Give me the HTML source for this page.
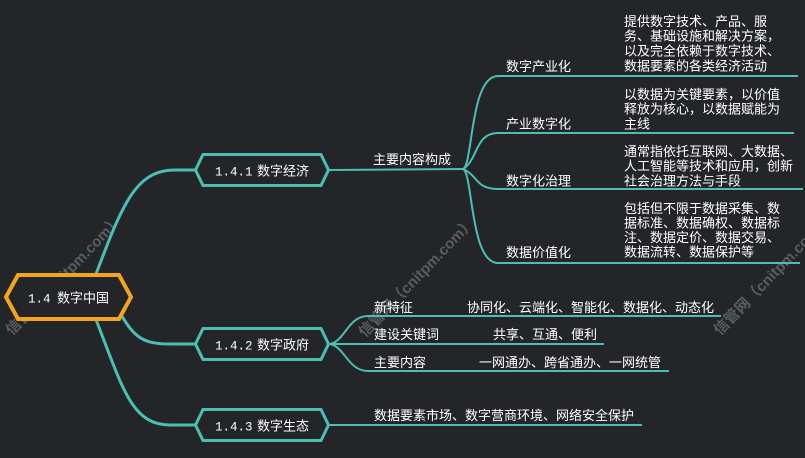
<!DOCTYPE html>
<html>
<head>
<meta charset="utf-8">
<style>
html,body{margin:0;padding:0;background:#232529;}
svg{display:block;}
text{font-family:"Liberation Sans","Noto Sans CJK SC",sans-serif;fill:#ffffff;font-size:13px;}
.mono{font-family:"Liberation Mono","Noto Sans CJK SC",monospace;font-size:12.5px;}
.wm{font-family:"Liberation Sans","Noto Sans CJK SC",sans-serif;font-weight:bold;font-size:15px;fill:#5a5d61;}
</style>
</head>
<body>
<svg width="805" height="458" viewBox="0 0 805 458" xmlns="http://www.w3.org/2000/svg">
<rect x="0" y="0" width="805" height="458" fill="#232529"/>

<!-- watermarks -->
<text class="wm" transform="translate(12,336) rotate(-46)">信管网（cnitpm.com）</text>
<text class="wm" transform="translate(365,338) rotate(-46)">信管网（cnitpm.com）</text>
<text class="wm" transform="translate(720,336) rotate(-46)">信管网（cnitpm.com）</text>

<!-- root connectors -->
<g fill="none" stroke="#4bbfb2" stroke-width="3" stroke-linecap="round">
  <path d="M93 282 C122 205, 135 170, 175 170 L196 170"/>
  <path d="M93 312 C122 385, 130 425, 170 425 L196 425"/>
  <path d="M116 306 C133 336, 140 344, 170 344 L196 344"/>
</g>

<!-- 1.4.1 children -->
<g fill="none" stroke="#4bbfb2" stroke-width="2">
  <path d="M329 170 L463 169"/>
  <path d="M463 169 C473 165, 470 76, 498 76 L798 76"/>
  <path d="M463 169 C478 160, 475 133, 498 133 L794 133"/>
  <path d="M463 169 C478 175, 475 189, 498 189 L803 189"/>
  <path d="M463 169 C473 173, 470 263, 498 263 L800 263"/>
</g>

<!-- 1.4.2 children -->
<g fill="none" stroke="#4bbfb2" stroke-width="2">
  <path d="M330 344 C345 341, 348 316, 368 316 L721 316"/>
  <path d="M330 344 L604 344"/>
  <path d="M330 344 C345 347, 348 371, 368 371 L669 371"/>
  <path d="M330 425 L642 425"/>
</g>

<!-- nodes -->
<polygon points="6,297 18,275 119,275 131,297 119,319 18,319" fill="#232529" stroke="#f4a51c" stroke-width="4" stroke-linejoin="miter"/>
<polygon points="195.5,170 203,154.5 321,154.5 328.5,170 321,185.5 203,185.5" fill="#232529" stroke="#4bbfb2" stroke-width="3"/>
<polygon points="195.5,344 203,328.5 321,328.5 328.5,344 321,359.5 203,359.5" fill="#232529" stroke="#4bbfb2" stroke-width="3"/>
<polygon points="195.5,425 203,409.5 321,409.5 328.5,425 321,440.5 203,440.5" fill="#232529" stroke="#4bbfb2" stroke-width="3"/>

<!-- node texts -->
<text class="mono" x="28" y="302.5">1.4</text>
<text x="57" y="302.5">数字中国</text>

<text class="mono" x="215" y="175.5">1.4.1</text>
<text x="257" y="175.5">数字经济</text>

<text class="mono" x="215" y="349.5">1.4.2</text>
<text x="257" y="349.5">数字政府</text>

<text class="mono" x="215" y="430.5">1.4.3</text>
<text x="257" y="430.5">数字生态</text>

<!-- 1.4.1 subtree texts -->
<text x="373" y="164">主要内容构成</text>

<text x="506" y="71">数字产业化</text>
<text x="624" y="26">提供数字技术、产品、服</text>
<text x="624" y="40.7">务、基础设施和解决方案，</text>
<text x="624" y="55.4">以及完全依赖于数字技术、</text>
<text x="624" y="70.5">数据要素的各类经济活动</text>

<text x="506" y="128.3">产业数字化</text>
<text x="624" y="99">以数据为关键要素，以价值</text>
<text x="624" y="113.7">释放为核心，以数据赋能为</text>
<text x="624" y="128.3">主线</text>

<text x="506" y="185.7">数字化治理</text>
<text x="624" y="156">通常指依托互联网、大数据、</text>
<text x="624" y="170.7">人工智能等技术和应用，创新</text>
<text x="624" y="185.5">社会治理方法与手段</text>

<text x="506" y="257">数据价值化</text>
<text x="624" y="213">包括但不限于数据采集、数</text>
<text x="624" y="227.5">据标准、数据确权、数据标</text>
<text x="624" y="242">注、数据定价、数据交易、</text>
<text x="624" y="256.7">数据流转、数据保护等</text>

<!-- 1.4.2 subtree texts -->
<text x="374" y="312">新特征</text>
<text x="467" y="312">协同化、云端化、智能化、数据化、动态化</text>
<text x="374" y="339">建设关键词</text>
<text x="493" y="339">共享、互通、便利</text>
<text x="374" y="367">主要内容</text>
<text x="479" y="367">一网通办、跨省通办、一网统管</text>

<!-- 1.4.3 subtree text -->
<text x="374" y="420">数据要素市场、数字营商环境、网络安全保护</text>
</svg>
</body>
</html>
